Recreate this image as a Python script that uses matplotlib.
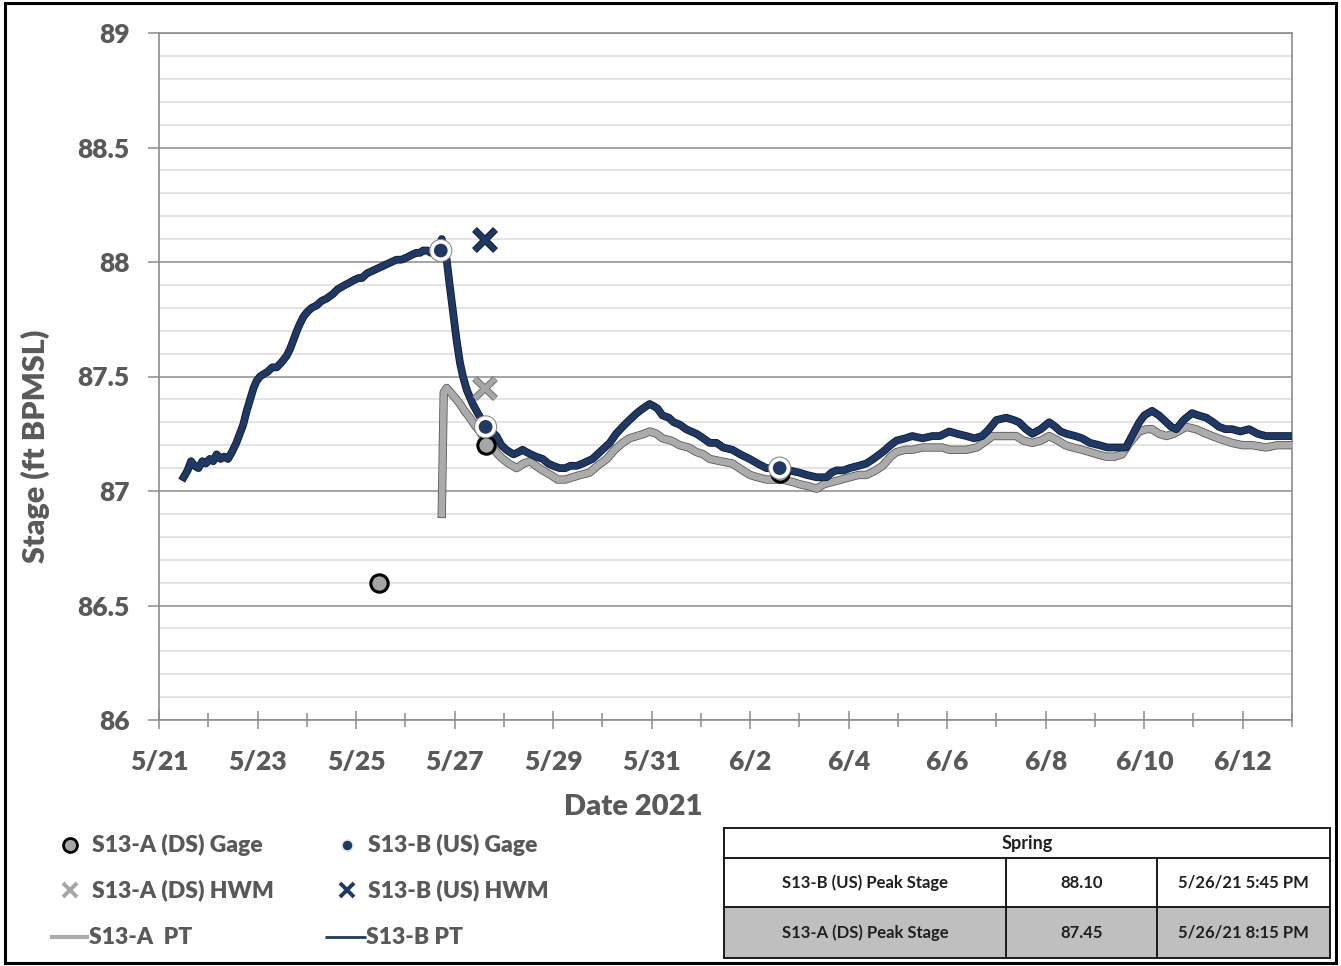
import numpy as np
import pandas as pd
import matplotlib
matplotlib.use("Agg")
import matplotlib.pyplot as plt
import matplotlib.dates as mdates
import matplotlib.patheffects as pe
from matplotlib.patches import Rectangle
from matplotlib.ticker import MultipleLocator, FuncFormatter, FixedLocator

plt.rcParams['font.family'] = ['Lato', 'DejaVu Sans']

START = pd.Timestamp("2021-05-21")

# ---- Pressure transducer records (days since 5/21/2021 00:00, stage ft BPMSL) ----
b_pt_days = [
    0.50, 0.58, 0.65, 0.72, 0.80, 0.88, 0.95, 1.03, 1.10, 1.17, 1.25, 1.32, 1.40, 1.48,
    1.57, 1.64, 1.71, 1.78, 1.85, 1.92, 1.98, 2.05, 2.12, 2.20, 2.30, 2.39, 2.48, 2.59,
    2.66, 2.73, 2.80, 2.86, 2.93, 3.00, 3.10, 3.20, 3.30, 3.40, 3.53, 3.62, 3.70, 3.78,
    3.87, 3.95, 4.05, 4.12, 4.22, 4.32, 4.42, 4.52, 4.62, 4.72, 4.82, 4.92, 5.03, 5.12,
    5.22, 5.30, 5.36, 5.45, 5.52, 5.60, 5.67, 5.74, 5.78, 5.84, 5.90, 5.97, 6.04, 6.11,
    6.17, 6.25, 6.37, 6.47, 6.58, 6.70, 6.85, 6.95, 7.05, 7.12, 7.20, 7.30, 7.38, 7.46,
    7.55, 7.65, 7.79, 7.90, 8.00, 8.13, 8.25, 8.35, 8.48, 8.60, 8.70, 8.80, 8.90, 9.00,
    9.15, 9.28, 9.41, 9.55, 9.70, 9.82, 9.96, 10.05, 10.12, 10.22, 10.35, 10.45, 10.57,
    10.70, 10.80, 10.91, 11.05, 11.18, 11.32, 11.45, 11.64, 11.80, 11.99, 12.15, 12.33,
    12.50, 12.66, 12.80, 13.00, 13.15, 13.35, 13.55, 13.65, 13.75, 13.90, 14.02, 14.20,
    14.36, 14.50, 14.69, 14.85, 14.97, 15.15, 15.29, 15.50, 15.70, 15.85, 16.04, 16.20,
    16.39, 16.55, 16.71, 16.85, 17.00, 17.20, 17.35, 17.46, 17.60, 17.73, 17.90, 18.07,
    18.20, 18.30, 18.42, 18.60, 18.74, 18.90, 19.09, 19.25, 19.43, 19.63, 19.75, 19.90,
    20.00, 20.16, 20.30, 20.45, 20.55, 20.65, 20.80, 20.97, 21.10, 21.26, 21.40, 21.52,
    21.65, 21.78, 21.95, 22.13, 22.30, 22.47, 22.70, 23.00,
]
b_pt_stage = [
    87.06, 87.09, 87.13, 87.11, 87.10, 87.13, 87.12, 87.14, 87.13, 87.16, 87.14, 87.15, 87.14, 87.17,
    87.21, 87.25, 87.29, 87.35, 87.40, 87.45, 87.48, 87.50, 87.51, 87.52, 87.54, 87.54, 87.56, 87.59,
    87.62, 87.66, 87.70, 87.73, 87.76, 87.78, 87.80, 87.81, 87.83, 87.84, 87.86, 87.88, 87.89, 87.90,
    87.91, 87.92, 87.93, 87.93, 87.95, 87.96, 87.97, 87.98, 87.99, 88.00, 88.01, 88.01, 88.02, 88.03,
    88.04, 88.04, 88.05, 88.05, 88.04, 88.06, 88.05, 88.10, 88.05, 88.01, 87.90, 87.78, 87.66, 87.56,
    87.50, 87.44, 87.38, 87.34, 87.30, 87.27, 87.24, 87.20, 87.18, 87.17, 87.16, 87.17, 87.18, 87.17,
    87.16, 87.15, 87.14, 87.12, 87.11, 87.10, 87.10, 87.11, 87.11, 87.12, 87.13, 87.14, 87.16, 87.18,
    87.21, 87.25, 87.28, 87.31, 87.34, 87.36, 87.38, 87.37, 87.36, 87.33, 87.32, 87.30, 87.29,
    87.27, 87.26, 87.25, 87.23, 87.21, 87.21, 87.19, 87.18, 87.16, 87.14, 87.12, 87.10,
    87.10, 87.10, 87.09, 87.08, 87.07, 87.06, 87.06, 87.08, 87.09, 87.09, 87.10, 87.11,
    87.12, 87.14, 87.17, 87.20, 87.22, 87.23, 87.24, 87.23, 87.24, 87.24, 87.26, 87.25,
    87.24, 87.23, 87.24, 87.27, 87.31, 87.32, 87.31, 87.30, 87.27, 87.25, 87.27, 87.30,
    87.28, 87.26, 87.25, 87.24, 87.23, 87.21, 87.20, 87.19, 87.19, 87.19, 87.24, 87.30,
    87.33, 87.35, 87.33, 87.30, 87.28, 87.27, 87.31, 87.34, 87.33, 87.32, 87.30, 87.28,
    87.27, 87.27, 87.26, 87.27, 87.25, 87.24, 87.24, 87.24,
]

a_pt_days = [
    5.74, 5.78, 5.84, 5.92, 6.00, 6.11, 6.20, 6.31, 6.40, 6.51, 6.62, 6.77, 6.88, 6.98,
    7.10, 7.26, 7.40, 7.53, 7.65, 7.79, 7.95, 8.09, 8.25, 8.40, 8.55, 8.74, 8.90, 9.09,
    9.25, 9.41, 9.55, 9.70, 9.85, 9.96, 10.10, 10.22, 10.40, 10.57, 10.75, 10.91, 11.05,
    11.18, 11.40, 11.64, 11.85, 12.00, 12.15, 12.33, 12.50, 12.66, 12.85, 13.00, 13.20,
    13.35, 13.50, 13.68, 13.85, 14.02, 14.20, 14.36, 14.55, 14.69, 14.85, 14.97, 15.15,
    15.29, 15.50, 15.70, 15.90, 16.04, 16.20, 16.39, 16.60, 16.80, 16.92, 17.10, 17.25,
    17.40, 17.55, 17.73, 17.90, 18.07, 18.25, 18.40, 18.55, 18.74, 18.90, 19.05, 19.23,
    19.40, 19.55, 19.70, 19.90, 20.05, 20.16, 20.30, 20.45, 20.60, 20.85, 21.05, 21.26,
    21.50, 21.78, 22.00, 22.20, 22.47, 22.70, 23.00,
]
a_pt_stage = [
    86.90, 87.43, 87.45, 87.43, 87.41, 87.38, 87.35, 87.32, 87.29, 87.26, 87.22, 87.19, 87.16, 87.14,
    87.12, 87.10, 87.12, 87.13, 87.11, 87.09, 87.07, 87.05, 87.05, 87.06, 87.07, 87.08, 87.11, 87.14,
    87.18, 87.21, 87.23, 87.24, 87.25, 87.26, 87.25, 87.23, 87.22, 87.20, 87.19, 87.17, 87.16,
    87.14, 87.13, 87.12, 87.09, 87.07, 87.06, 87.05, 87.05, 87.05, 87.04, 87.03, 87.02,
    87.01, 87.03, 87.04, 87.05, 87.06, 87.07, 87.07, 87.09, 87.11, 87.15, 87.17, 87.18,
    87.18, 87.19, 87.19, 87.19, 87.18, 87.18, 87.18, 87.19, 87.22, 87.24, 87.24, 87.24,
    87.24, 87.22, 87.21, 87.22, 87.24, 87.22, 87.20, 87.19, 87.18, 87.17, 87.16, 87.15,
    87.15, 87.16, 87.21, 87.26, 87.27, 87.27, 87.25, 87.24, 87.25, 87.28, 87.27, 87.25,
    87.23, 87.21, 87.20, 87.20, 87.19, 87.20, 87.20,
]

# ---- Staff gage readings and high-water marks ----
a_gage_days = [4.46, 6.63, 12.60]
a_gage_stage = [86.60, 87.20, 87.08]
b_gage_days = [5.72, 6.63, 12.60]
b_gage_stage = [88.05, 87.28, 87.10]
hwm_days = [6.60]
a_hwm_stage = [87.45]
b_hwm_stage = [88.10]

# ---- Peak stage summary ----
table_title = "Spring"
peak_labels = ["S13-B (US) Peak Stage", "S13-A (DS) Peak Stage"]
peak_values = [88.10, 87.45]
peak_times = ["5/26/21 5:45 PM", "5/26/21 8:15 PM"]

legend_labels = ["S13-A (DS) Gage", "S13-B (US) Gage",
                 "S13-A (DS) HWM", "S13-B (US) HWM",
                 "S13-A  PT", "S13-B PT"]

x_label = "Date 2021"
y_label = "Stage (ft BPMSL)"
x_span_days = 23
x_label_step = 2


def to_time(days):
    return START + pd.to_timedelta(np.asarray(days, dtype=float), unit="D")


NAVY = "#1f3864"
NAVY_EDGE = "#0c1a33"
GRAY = "#ababab"
GRAY_EDGE = "#5a5a5a"
TEXT = "#595959"
AXIS = "#8c8c8c"
WEIGHT = "heavy"

W, H = 1341, 966
fig = plt.figure(figsize=(W / 100, H / 100), dpi=100)
fig.patch.set_facecolor("white")

ax = fig.add_axes([159 / W, 1 - 720 / H, (1292 - 159) / W, (720 - 33) / H])

# PT lines
ax.plot(to_time(a_pt_days), a_pt_stage, color=GRAY, lw=4.8, solid_joinstyle="round",
        path_effects=[pe.Stroke(linewidth=6.0, foreground=GRAY_EDGE), pe.Normal()], zorder=3)
ax.plot(to_time(b_pt_days), b_pt_stage, color=NAVY, lw=4.4, solid_joinstyle="round",
        path_effects=[pe.Stroke(linewidth=5.6, foreground=NAVY_EDGE), pe.Normal()], zorder=4)

# Gage readings
ax.plot(to_time(a_gage_days), a_gage_stage, ls="none", marker="o", ms=12.5,
        mfc="#a6a6a6", mec="black", mew=2.2, zorder=6)
ax.plot(to_time(b_gage_days), b_gage_stage, ls="none", marker="o", ms=12.5,
        mfc=NAVY, mec="white", mew=2.6, zorder=7,
        path_effects=[pe.Stroke(linewidth=4.2, foreground="#8a8a8a"), pe.Normal()])

# High-water marks
ax.plot(to_time(hwm_days), a_hwm_stage, ls="none", marker="x", ms=15, mew=3.6,
        color="#a6a6a6", zorder=8,
        path_effects=[pe.Stroke(linewidth=5.0, foreground="#6e6e6e"), pe.Normal()])
ax.plot(to_time(hwm_days), b_hwm_stage, ls="none", marker="x", ms=15, mew=3.6,
        color=NAVY, zorder=8,
        path_effects=[pe.Stroke(linewidth=5.0, foreground=NAVY_EDGE), pe.Normal()])

# Axes styling
ax.set_ylim(86, 89)
ax.set_xlim(to_time([0])[0], to_time([x_span_days])[0])
ax.yaxis.set_major_locator(MultipleLocator(0.5))
ax.yaxis.set_minor_locator(MultipleLocator(0.1))
ax.yaxis.set_major_formatter(FuncFormatter(lambda v, p: f"{v:g}"))
major_dates = mdates.date2num(to_time(np.arange(0, x_span_days, x_label_step)).to_pydatetime())
minor_dates = mdates.date2num(to_time(np.arange(0, x_span_days + 1)).to_pydatetime())
ax.xaxis.set_major_locator(FixedLocator(major_dates))
ax.xaxis.set_minor_locator(FixedLocator(minor_dates))
ax.xaxis.set_major_formatter(FuncFormatter(
    lambda v, p: f"{mdates.num2date(v).month}/{mdates.num2date(v).day}"))

ax.grid(which="major", axis="y", color=AXIS, lw=1.1, zorder=1)
ax.grid(which="minor", axis="y", color="#dcdcdc", lw=1.1, zorder=0)
ax.set_axisbelow(True)
for s in ax.spines.values():
    s.set_color(AXIS)
    s.set_linewidth(1.2)

ax.tick_params(axis="y", which="major", direction="out", length=8, width=1.1,
               color=AXIS, pad=13, labelsize=19, labelcolor=TEXT)
ax.tick_params(axis="y", which="minor", length=0)
ax.tick_params(axis="x", which="major", direction="inout", length=13, width=1.1,
               color=AXIS, pad=15, labelsize=19, labelcolor=TEXT)
ax.tick_params(axis="x", which="minor", direction="inout", length=10, width=1.1, color=AXIS)
for lbl in ax.get_xticklabels() + ax.get_yticklabels():
    lbl.set_fontweight(WEIGHT)

ax.set_ylabel(y_label, fontsize=22, fontweight=WEIGHT, color=TEXT)
ax.yaxis.set_label_coords(-0.096, 0.399)
ax.set_xlabel(x_label, fontsize=21, fontweight=WEIGHT, color=TEXT)
ax.xaxis.set_label_coords(0.419, -0.108)

# Overlay in pixel coordinates for legend, table and frame
ov = fig.add_axes([0, 0, 1, 1])
ov.set_xlim(0, W)
ov.set_ylim(H, 0)
ov.axis("off")
ov.patch.set_alpha(0)

# Legend
row_y = [845, 890, 937]
col_mx = [70, 347]
col_tx = [92, 368]
ov.plot(col_mx[0], row_y[0], marker="o", ms=10, mfc="#a6a6a6", mec="black", mew=2)
ov.plot(col_mx[1], row_y[0], marker="o", ms=8, mfc=NAVY, mec="#e8e8e8", mew=1.2)
ov.plot(col_mx[0], row_y[1], marker="x", ms=10, mew=2.8, color="#a6a6a6")
ov.plot(col_mx[1], row_y[1], marker="x", ms=10, mew=2.8, color=NAVY)
ov.plot([50, 89], [row_y[2], row_y[2]], color=GRAY, lw=3, solid_capstyle="butt")
ov.plot([325, 366], [row_y[2], row_y[2]], color=NAVY, lw=2, solid_capstyle="butt")
tx_pos = [(col_tx[0], row_y[0]), (col_tx[1], row_y[0]),
          (col_tx[0], row_y[1]), (col_tx[1], row_y[1]),
          (89, row_y[2]), (366, row_y[2])]
for (x, y), lab in zip(tx_pos, legend_labels):
    ov.text(x, y, lab, fontsize=16.5, fontweight=WEIGHT, color=TEXT, va="center", ha="left")

# Peak stage table
tx0, tx1 = 724, 1330
ty = [828, 858, 907, 958]
cx = [724, 1006, 1157, 1330]
ov.add_patch(Rectangle((tx0, ty[2]), tx1 - tx0, ty[3] - ty[2], facecolor="#bfbfbf",
                       edgecolor="none"))
tbl_lw = 1.4
ov.add_patch(Rectangle((tx0, ty[0]), tx1 - tx0, ty[3] - ty[0], fill=False,
                       edgecolor="#1a1a1a", lw=tbl_lw))
for yy in ty[1:3]:
    ov.plot([tx0, tx1], [yy, yy], color="#1a1a1a", lw=tbl_lw)
for xx in cx[1:3]:
    ov.plot([xx, xx], [ty[1], ty[3]], color="#1a1a1a", lw=tbl_lw)
ov.text((tx0 + tx1) / 2, (ty[0] + ty[1]) / 2, table_title, fontsize=13,
        fontweight="bold", color="#1f1f1f", ha="center", va="center")
for i, (lab, val, tm) in enumerate(zip(peak_labels, peak_values, peak_times)):
    yc = (ty[i + 1] + ty[i + 2]) / 2
    cells = [lab, f"{val:.2f}", tm]
    for j, c in enumerate(cells):
        ov.text((cx[j] + cx[j + 1]) / 2, yc, c, fontsize=12, fontweight="bold",
                color="#1f1f1f", ha="center", va="center")

# Outer frame
ov.add_patch(Rectangle((5, 3), 1331, 960, fill=False, edgecolor="black", lw=2.2))

fig.savefig("out.png", dpi=100, facecolor="white")
